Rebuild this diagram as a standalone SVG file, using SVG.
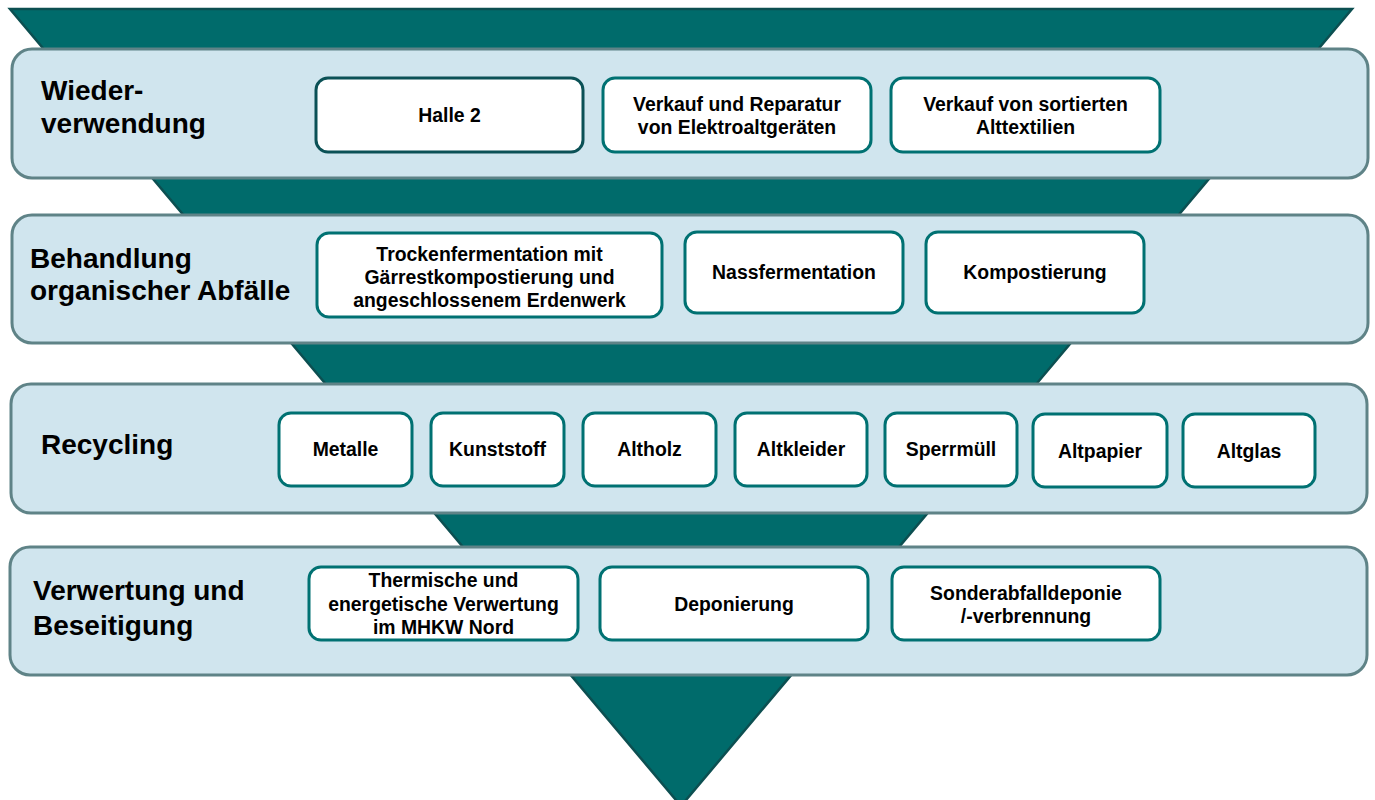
<svg xmlns="http://www.w3.org/2000/svg" width="1375" height="800" viewBox="0 0 1375 800">
<style>
.band{fill:#d0e5ee;stroke:#5f8387;stroke-width:3}
.box{fill:#ffffff;stroke:#007172;stroke-width:3}
.box.dark{stroke:#0b5156}
.title{font-family:"Liberation Sans",Arial,sans-serif;font-weight:bold;font-size:28px;fill:#000}
.lbl{font-family:"Liberation Sans",Arial,sans-serif;font-weight:bold;font-size:19.4px;fill:#000;text-anchor:middle}
</style>
<rect width="1375" height="800" fill="#ffffff"/>
<g id="funnel">
<polygon points="10,9 1352,9 681,806" fill="#006b6b" stroke="#0c4f51" stroke-width="2.5"/>
</g>
<g id="connectors"></g>
<g id="band-wiederverwendung">
<rect class="band" x="12" y="49" width="1356" height="129" rx="20"/>
<text class="title" x="41" y="100">Wieder-</text>
<text class="title" x="41" y="133">verwendung</text>
</g>
<g id="band-organisch">
<rect class="band" x="12" y="215" width="1356" height="128" rx="20"/>
<text class="title" x="30" y="268">Behandlung</text>
<text class="title" x="30" y="300">organischer Abfälle</text>
</g>
<g id="band-recycling">
<rect class="band" x="11" y="384" width="1356" height="129" rx="20"/>
<text class="title" x="41" y="454">Recycling</text>
</g>
<g id="band-verwertung">
<rect class="band" x="10" y="547" width="1357" height="128" rx="20"/>
<text class="title" x="33" y="600">Verwertung und</text>
<text class="title" x="33" y="635">Beseitigung</text>
</g>
<g id="node-halle2">
<rect class="box dark" x="316" y="78" width="267" height="74" rx="12"/>
<text class="lbl" x="449.5" y="122">Halle 2</text>
</g>
<g id="node-elektro">
<rect class="box" x="603" y="78" width="268" height="74" rx="12"/>
<text class="lbl" x="737" y="111">Verkauf und Reparatur</text>
<text class="lbl" x="737" y="134">von Elektroaltgeräten</text>
</g>
<g id="node-alttextilien">
<rect class="box" x="891" y="78" width="269" height="74" rx="12"/>
<text class="lbl" x="1025.5" y="111">Verkauf von sortierten</text>
<text class="lbl" x="1025.5" y="134">Alttextilien</text>
</g>
<g id="node-trocken">
<rect class="box" x="317" y="233" width="345" height="84" rx="12"/>
<text class="lbl" x="489.5" y="261">Trockenfermentation mit</text>
<text class="lbl" x="489.5" y="284">Gärrestkompostierung und</text>
<text class="lbl" x="489.5" y="307">angeschlossenem Erdenwerk</text>
</g>
<g id="node-nass">
<rect class="box" x="685" y="232" width="218" height="81" rx="12"/>
<text class="lbl" x="794" y="279">Nassfermentation</text>
</g>
<g id="node-kompost">
<rect class="box" x="926" y="232" width="218" height="81" rx="12"/>
<text class="lbl" x="1035" y="279">Kompostierung</text>
</g>
<g id="node-metalle">
<rect class="box" x="279" y="413" width="133" height="73" rx="12"/>
<text class="lbl" x="345.5" y="456">Metalle</text>
</g>
<g id="node-kunststoff">
<rect class="box" x="431" y="413" width="133" height="73" rx="12"/>
<text class="lbl" x="497.5" y="456">Kunststoff</text>
</g>
<g id="node-altholz">
<rect class="box" x="583" y="413" width="133" height="73" rx="12"/>
<text class="lbl" x="649.5" y="456">Altholz</text>
</g>
<g id="node-altkleider">
<rect class="box" x="735" y="413" width="132" height="73" rx="12"/>
<text class="lbl" x="801" y="456">Altkleider</text>
</g>
<g id="node-sperrmuell">
<rect class="box" x="885" y="413" width="132" height="73" rx="12"/>
<text class="lbl" x="951" y="456">Sperrmüll</text>
</g>
<g id="node-altpapier">
<rect class="box" x="1033" y="414" width="134" height="73" rx="12"/>
<text class="lbl" x="1100" y="458">Altpapier</text>
</g>
<g id="node-altglas">
<rect class="box" x="1183" y="414" width="132" height="73" rx="12"/>
<text class="lbl" x="1249" y="458">Altglas</text>
</g>
<g id="node-thermisch">
<rect class="box" x="309" y="567" width="269" height="73" rx="12"/>
<text class="lbl" x="443.5" y="587">Thermische und</text>
<text class="lbl" x="443.5" y="611">energetische Verwertung</text>
<text class="lbl" x="443.5" y="634">im MHKW Nord</text>
</g>
<g id="node-deponierung">
<rect class="box" x="600" y="567" width="268" height="73" rx="12"/>
<text class="lbl" x="734" y="611">Deponierung</text>
</g>
<g id="node-sonderabfall">
<rect class="box" x="892" y="567" width="268" height="73" rx="12"/>
<text class="lbl" x="1026" y="600">Sonderabfalldeponie</text>
<text class="lbl" x="1026" y="623">/-verbrennung</text>
</g>
</svg>
